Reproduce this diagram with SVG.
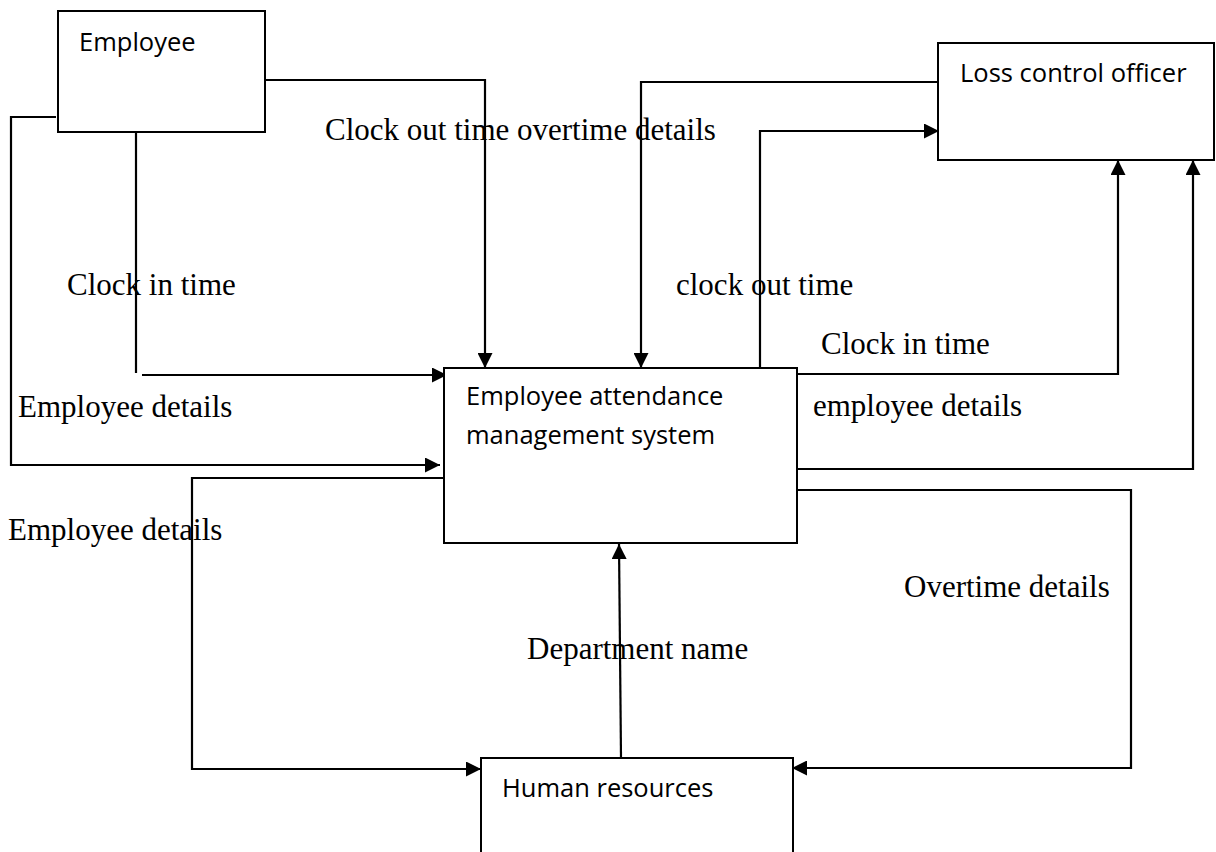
<svg xmlns="http://www.w3.org/2000/svg" width="1216" height="852" viewBox="0 0 1216 852">
<style>
.box{fill:#fff;stroke:#000;stroke-width:2}
.lbl{font-family:"Open Sans","Noto Sans",sans-serif;font-size:25.5px;fill:#000}
.flow{font-family:"Liberation Serif","Times New Roman",serif;font-size:31px;fill:#000}
.c{fill:none;stroke:#000;stroke-width:2.2}
</style>
<defs>
<marker id="ah" markerUnits="userSpaceOnUse" markerWidth="15" markerHeight="15" refX="15" refY="7.5" orient="auto">
<path d="M0,0 L15,7.5 L0,15 z" fill="#000"/>
</marker>
</defs>
<rect width="1216" height="852" fill="#fff"/>
<g id="connectors">
<path class="c" d="M265,80 H485 V368" marker-end="url(#ah)"/>
<path class="c" d="M136,132 V373"/>
<path class="c" d="M142,375 H447" marker-end="url(#ah)"/>
<path class="c" d="M56,117 H11 V465 H440" marker-end="url(#ah)"/>
<path class="c" d="M444,478 H192 V769 H481" marker-end="url(#ah)"/>
<path class="c" d="M938,82 H641 V368" marker-end="url(#ah)"/>
<path class="c" d="M760,368 V131 H939" marker-end="url(#ah)"/>
<path class="c" d="M797,374 H1118 V160" marker-end="url(#ah)"/>
<path class="c" d="M797,469 H1193 V160" marker-end="url(#ah)"/>
<path class="c" d="M797,490 H1131 V768 H792" marker-end="url(#ah)"/>
<path class="c" d="M621,758 L619,544" marker-end="url(#ah)"/>
</g>
<g id="labels">
<text class="flow" x="325" y="140">Clock out time overtime details</text>
<text class="flow" x="67" y="295">Clock in time</text>
<text class="flow" x="676" y="295">clock out time</text>
<text class="flow" x="821" y="354">Clock in time</text>
<text class="flow" x="18" y="417">Employee details</text>
<text class="flow" x="813" y="416">employee details</text>
<text class="flow" x="8" y="540">Employee details</text>
<text class="flow" x="904" y="597">Overtime details</text>
<text class="flow" x="527" y="659">Department name</text>
</g>
<g id="employee">
<rect class="box" x="58" y="11" width="207" height="121"/>
<text class="lbl" x="79" y="51">Employee</text>
</g>
<g id="loss-control-officer">
<rect class="box" x="938" y="43" width="276" height="117"/>
<text class="lbl" x="960" y="82">Loss control officer</text>
</g>
<g id="system">
<rect class="box" x="444" y="368" width="353" height="175"/>
<text class="lbl" x="466" y="405">Employee attendance</text>
<text class="lbl" x="466" y="444">management system</text>
</g>
<g id="human-resources">
<rect class="box" x="481" y="758" width="312" height="110"/>
<text class="lbl" x="502" y="797">Human resources</text>
</g>
</svg>
